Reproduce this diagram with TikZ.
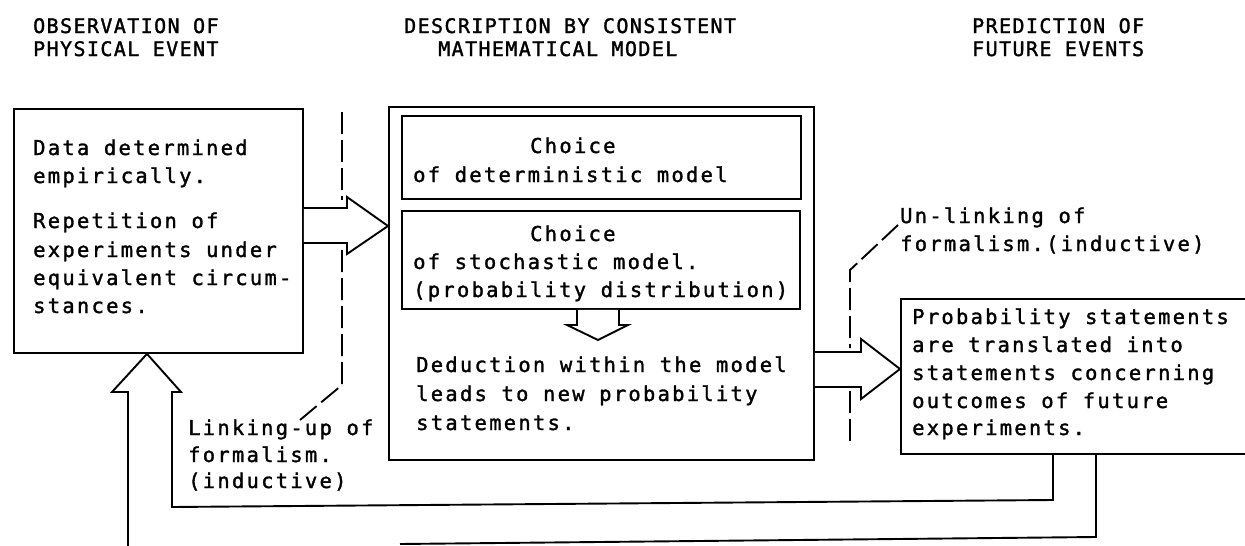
\documentclass[tikz,border=0pt]{standalone}
\usepackage{fontspec}
\newfontfamily\twfont[LetterSpace=11,FakeBold=1.5]{DejaVu Sans Mono}
\newfontfamily\hdfont[LetterSpace=7,FakeBold=1.5]{DejaVu Sans Mono}
\begin{document}
\begin{tikzpicture}[x=1pt,y=-1pt,
  box/.style={draw, line width=1.9pt, inner sep=0pt, anchor=north west},
  txt/.style={inner sep=0pt, anchor=base west, font=\twfont\fontsize{20.5}{24}\selectfont},
  hdr/.style={inner sep=0pt, anchor=base west, font=\hdfont\fontsize{20}{22}\selectfont},
  dashline/.style={line width=1.9pt, dash pattern=on 22pt off 6pt},
  ln/.style={line width=1.9pt, line join=miter},
  blockarrow/.style={line width=1.9pt, fill=white, line join=miter}]
\useasboundingbox (0,0) rectangle (1245,546);
\fill[white] (0,0) rectangle (1245,546);
\clip (0,0) rectangle (1245,546);

% headers
\node[hdr] (h1a) at (33,33) {OBSERVATION OF};
\node[hdr] (h1b) at (33,56) {PHYSICAL EVENT};
\node[hdr] (h2a) at (404,33) {DESCRIPTION BY CONSISTENT};
\node[hdr] (h2b) at (438,56) {MATHEMATICAL MODEL};
\node[hdr] (h3a) at (972,33) {PREDICTION OF};
\node[hdr] (h3b) at (972,56) {FUTURE EVENTS};

% boxes
\node[box, minimum width=289pt, minimum height=244pt] (lbox) at (13,108) {};
\node[box, minimum width=425pt, minimum height=353pt] (mbox) at (388,106) {};
\node[box, minimum width=399pt, minimum height=83pt] (dbox) at (401,115) {};
\node[box, minimum width=398pt, minimum height=98pt] (sbox) at (401,210) {};
\node[box, minimum width=360pt, minimum height=155pt] (rbox) at (900,298) {};

% left box text
\node[txt] (l1) at (33,155) {Data determined};
\node[txt] (l2) at (33,183) {empirically.};
\node[txt] (l3) at (33,228) {Repetition of};
\node[txt] (l4) at (33,257) {experiments under};
\node[txt] (l5) at (33,285) {equivalent circum-};
\node[txt] (l6) at (33,313) {stances.};

% middle box text
\node[txt] (d1) at (530,153) {Choice};
\node[txt] (d2) at (413,182) {of deterministic model};
\node[txt] (s1) at (530,241) {Choice};
\node[txt] (s2) at (413,269) {of stochastic model.};
\node[txt] (s3) at (413,297) {(probability distribution)};
\node[txt] (m1) at (416,372) {Deduction within the model};
\node[txt] (m2) at (416,401) {leads to new probability};
\node[txt] (m3) at (416,430) {statements.};

% right side text
\node[txt] (u1) at (900,223) {Un-linking of};
\node[txt] (u2) at (900,251) {formalism.(inductive)};
\node[txt] (r1) at (912,324) {Probability statements};
\node[txt] (r2) at (912,352) {are translated into};
\node[txt] (r3) at (912,380) {statements concerning};
\node[txt] (r4) at (912,408) {outcomes of future};
\node[txt] (r5) at (912,435) {experiments.};

% linking-up text
\node[txt] (k1) at (188,435) {Linking-up of};
\node[txt] (k2) at (188,462) {formalism.};
\node[txt] (k3) at (188,488) {(inductive)};

% dashed separators
\draw[dashline] (342,112) -- (342,200);
\draw[dashline] (342,250) -- (342,385) -- (300,420);
\draw[dashline] (898,225) -- (850,270) -- (850,348);
\draw[dashline] (850,391) -- (850,445);

% block arrows
\filldraw[blockarrow] (lbox.east |- 0,208) -- (347,208) -- (347,197) -- (mbox.west |- 0,226) -- (347,254) -- (347,243) -- (lbox.east |- 0,243);
\filldraw[blockarrow] (mbox.east |- 0,352) -- (861,352) -- (861,339) -- (rbox.west |- 0,369) -- (861,399) -- (861,387) -- (mbox.east |- 0,387);
\filldraw[blockarrow] (sbox.south -| 577,0) -- (577,325) -- (567,325) -- (598,340) -- (628,325) -- (619,325) -- (sbox.south -| 619,0);

% feedback lines
\coordinate (fa) at (1053,0);
\coordinate (fb) at (1096,0);
\coordinate (bend) at (400,544);
\draw[ln] (rbox.south -| fa) -- (1053,500) -- (172,507) -- (172,392) -- (181,392) -- (lbox.south -| 147,0) -- (112,392) -- (128,392) -- (128,560);
\draw[ln] (rbox.south -| fb) -- (1096,537) -- (bend);
\end{tikzpicture}
\end{document}
